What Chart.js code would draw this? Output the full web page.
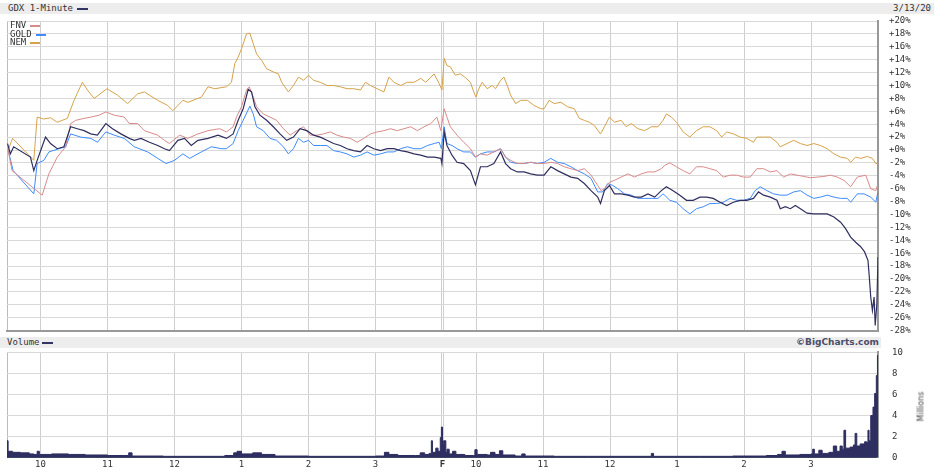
<!DOCTYPE html>
<html>
<head>
<meta charset="utf-8">
<script src="https://cdn.jsdelivr.net/npm/chart.js@4.4.1/dist/chart.umd.min.js"></script>
<style>
  body { margin: 0; background: #fff; width: 934px; height: 470px; position: relative; overflow: hidden;
         font-family: "DejaVu Sans Mono", monospace; font-size: 9px; color: #333; }
  canvas { position: absolute; left: 0; }
  .band { position: absolute; background: #ededed; }
  .txt { position: absolute; line-height: 11px; white-space: nowrap; }
  .dash { position: absolute; height: 2px; }
</style>
</head>
<body>
<canvas id="price" width="934" height="336" style="top:0"></canvas>
<canvas id="volume" width="934" height="130" style="top:340px"></canvas>

<div class="band" style="left:0;top:3px;width:934px;height:11px"></div>
<div class="txt" style="left:8px;top:3px">GDX 1-Minute</div>
<div class="dash" style="left:77px;top:8px;width:11px;background:#333366"></div>
<div class="txt" style="right:3px;top:3px">3/13/20</div>

<div class="txt" style="left:10px;top:20px">FNV</div>
<div class="dash" style="left:30px;top:25px;width:10px;background:#d98a8a"></div>
<div class="txt" style="left:10px;top:29px">GOLD</div>
<div class="dash" style="left:36px;top:34px;width:10px;background:#3d8bff"></div>
<div class="txt" style="left:10px;top:37px">NEM</div>
<div class="dash" style="left:30px;top:42px;width:10px;background:#d6a24a"></div>

<div class="band" style="left:0;top:337px;width:881px;height:11px"></div>
<div class="txt" style="left:7px;top:337px">Volume</div>
<div class="dash" style="left:42px;top:342px;width:11px;background:#333366"></div>
<div class="txt" style="right:55px;top:337px;font-family:'DejaVu Sans',sans-serif;font-weight:bold;color:#4a4e6a">©BigCharts.com</div>
<div class="txt" style="left:901px;top:401px;width:40px;text-align:center;transform:rotate(-90deg);font-family:'DejaVu Sans',sans-serif;font-size:8px;color:#444">Millions</div>

<script>
// minutes since 9:30 open, two sessions (Thu + Fri), 390 minutes each
const gridMin = [0, 30, 90, 150, 210, 270, 330, 389, 390, 391, 420, 480, 540, 600, 660, 720];
const tickLabels = { 30: '10', 90: '11', 150: '12', 210: '1', 270: '2', 330: '3', 390: 'F',
                     420: '10', 480: '11', 540: '12', 600: '1', 660: '2', 720: '3' };

// percent change
const gdxMin = [0.5,3,6,21,24,27,34.5,39,45,51,57,63,69,75,81,88.5,94.5,102,109.5,114,120,127.5,135,141,145.5,153,159,165,171,180,189,
  196.5,202.5,207,211.5,216,219,222,226.5,232.5,238.5,244.5,250.5,256.5,262.5,268.5,274.5,280.5,286.5,292.5,298.5,304.5,310.5,316.5,322.5,328.5,334.5,340.5,346.5,352.5,358.5,364.5,370.5,376.5,382.5,388.5,389.5,
  391.5,394,398.5,403,409,415,419.5,424,430,436,442,446.5,451,457,463,469,475,481,487,493,499,505,511,517,523,529,531.5,535,539.5,544,550,556,562,568,574,580,586,
  590.5,596.5,602.5,608.5,614.5,620.5,626.5,632.5,638.5,644.5,650.5,656.5,662.5,668.5,673,677.5,683.5,689.5,692.5,697,701.5,706,710.5,716.5,722.5,728.5,734.5,740.5,746.5,751,755.5,760,764.5,768,771,772,773.5,775,776.5,777.5,779,780];
const gdxPct = [1.0,-0.6,0.5,-1.1,-3.2,-1.6,2.0,1.0,0.2,0.5,3.6,3.3,3.0,2.5,2.3,4.1,3.3,2.5,1.8,1.5,1.8,1.2,0.7,0.2,-0.1,1.5,1.8,0.7,1.5,1.8,2.3,
  1.8,2.5,4.6,6.4,9.4,9.0,6.7,5.4,4.6,3.6,2.5,1.5,2.0,3.3,3.0,2.3,2.0,1.5,1.0,0.7,0.2,-0.1,-0.3,0.7,0.2,-0.1,0.2,0.2,-0.1,-0.3,-0.6,-0.8,-1.1,-1.1,-1.3,-2.1,
  2.8,0.7,-0.8,-1.9,-2.1,-3.2,-5.4,-2.6,-2.6,-2.1,-0.3,-2.1,-2.9,-3.4,-3.4,-3.7,-3.9,-3.9,-2.6,-3.2,-3.7,-4.2,-4.4,-5.2,-6.3,-7.3,-8.3,-6.3,-5.5,-6.8,-6.8,-7.0,-7.3,-7.3,-6.8,-7.3,-6.3,
  -5.7,-6.3,-7.0,-7.8,-7.8,-7.3,-7.3,-7.5,-8.1,-8.6,-8.1,-7.8,-7.8,-7.5,-6.5,-7.0,-7.3,-7.8,-9.1,-8.8,-9.1,-8.6,-9.1,-9.8,-9.9,-9.9,-9.9,-10.4,-11.2,-12.2,-13.5,-14.3,-15.0,-15.8,-17.1,-19.2,-22.8,-24.9,-22.8,-27.2,-23.8,-16.6];

const fnvMin = [1,4.5,31.5,37.5,45,52.5,57,61.5,69,75,82.5,88.5,96,105,109.5,117,123,135,141,145.5,154.5,162,171,180,190.5,
  196.5,202.5,205.5,210,214.5,217,220.5,223.5,229.5,235.5,241.5,247.5,253.5,259.5,265.5,271.5,277.5,283.5,289.5,295.5,301.5,307.5,313.5,319.5,325.5,331.5,337.5,343.5,349.5,355.5,361.5,367.5,373.5,379.5,385,388.5,
  391.5,394,397,403,409,415,419.5,424,430,436,442,446.5,451,457,463,469,475,481,487,493,499,505,511,517,523,529,532,535,539.5,544,550,556,562,568,574,580,586,
  589,593.5,599.5,605.5,611.5,617.5,623.5,629.5,635.5,641.5,647.5,653.5,659.5,665.5,671.5,677.5,683.5,689.5,695.5,701.5,707.5,713.5,719.5,725.5,731.5,737.5,743.5,749.5,755.5,761.5,769,773.5,778,780];
const fnvPct = [0.0,-3.2,-7.0,-3.7,-1.1,0.5,4.1,4.6,4.9,5.1,5.4,5.9,5.4,5.1,4.1,4.1,3.0,2.3,1.5,1.0,2.3,1.8,2.5,3.0,3.3,
  2.8,3.6,5.1,6.7,9.3,9.8,8.2,6.7,5.6,5.1,4.6,3.3,2.3,3.0,3.6,2.3,2.3,2.5,2.8,2.3,2.0,1.8,1.2,1.8,2.5,2.8,3.0,3.3,3.0,3.3,3.6,3.0,3.6,4.1,5.1,3.0,
  6.4,5.1,3.6,2.3,1.2,0.2,-1.1,-0.6,-0.8,-0.3,0.2,-1.1,-1.6,-2.1,-2.1,-1.9,-2.1,-2.1,-1.9,-2.1,-2.6,-2.9,-3.2,-2.9,-3.9,-5.5,-6.3,-6.0,-5.0,-4.7,-4.2,-3.7,-4.2,-3.7,-3.4,-3.4,-2.9,
  -2.4,-2.0,-2.6,-3.2,-3.7,-2.6,-2.6,-2.9,-3.2,-4.2,-3.9,-3.9,-4.2,-4.2,-2.9,-2.9,-3.4,-3.2,-4.2,-3.7,-3.9,-4.1,-4.3,-4.2,-4.1,-3.9,-4.2,-4.7,-5.7,-4.2,-3.9,-6.0,-6.3,-5.2];

const goldMin = [1,5.5,24,27,33,37.5,46.5,52.5,57,66,75,81,88.5,96,105,114,126,135,142.5,150,157.5,163.5,174,183,192,
  196.5,202.5,207,211.5,217.5,220.5,223.5,229.5,235.5,241.5,247.5,252,256.5,261,265.5,270,274.5,280.5,286.5,292.5,298.5,304.5,310.5,316.5,322.5,328.5,334.5,340.5,346.5,352.5,358.5,364.5,370.5,376.5,382.5,387,389,
  391.5,394,398.5,403,409,415,419.5,424,430,436,442,446.5,451,457,463,469,475,481,487,493,499,505,511,517,523,529,533.5,538,542.5,547,553,559,565,571,577,583,587.5,
  589,593.5,599.5,605.5,611.5,617.5,623.5,629.5,635.5,641.5,647.5,653.5,659.5,665.5,670,674.5,680.5,686.5,692.5,698.5,704.5,710.5,716.5,722.5,728.5,734.5,740.5,746.5,752.5,755.5,761.5,767.5,773.5,778,780];
const goldPct = [0.0,-3.2,-6.8,-2.1,-1.6,-0.3,0.2,0.5,2.5,2.0,1.8,1.2,2.8,2.3,1.8,0.5,-0.3,-1.3,-2.1,-1.6,-0.6,-1.3,-0.3,0.5,0.2,
  0.2,1.0,3.0,4.6,6.8,5.6,3.6,3.0,1.8,1.5,0.5,-0.6,0.2,1.8,1.2,1.5,0.7,0.7,0.7,-0.1,-0.3,-0.6,-1.1,-0.8,-0.3,-0.8,-0.6,-0.3,-0.3,0.2,0.5,0.2,0.2,0.7,1.0,1.2,0.2,
  3.6,1.0,0.7,0.2,-0.3,-0.3,-1.1,-0.6,-0.3,-0.3,0.2,-1.1,-1.9,-2.1,-2.1,-1.9,-2.1,-1.9,-1.3,-1.9,-2.1,-2.6,-3.2,-3.7,-4.4,-6.5,-6.5,-5.2,-5.5,-6.0,-6.8,-7.0,-7.5,-7.5,-7.5,-7.5,-6.8,
  -7.0,-7.8,-8.1,-9.1,-9.9,-9.1,-8.8,-8.3,-8.3,-8.1,-7.5,-7.8,-7.8,-7.5,-6.3,-5.7,-6.3,-6.8,-7.0,-7.0,-6.5,-6.3,-7.0,-7.5,-7.3,-7.0,-7.3,-7.5,-7.5,-8.1,-6.8,-6.8,-7.3,-8.1,-6.5];

const nemMin = [1,5,24,27,33,39,45,54,60,67.5,72,78,89.5,99,108,117,123,135,144,148.5,157.5,162,174,180,186,
  196.5,201,204,207,210,214.5,217.5,220.5,223.5,228,232.5,238.5,243,246,252,256.5,261,265.5,270,274.5,280.5,286.5,292.5,298.5,304.5,310.5,316.5,321,325.5,331.5,337.5,342,346.5,352.5,358.5,364.5,370.5,375,382.5,387,389.5,
  391.5,394,397,401.5,406,410,415,418,420,422,425.5,430,434.5,437.5,442,445,448,451,455.5,460,466,472,478,481,485.5,490,496,502,508,512.5,517,521.5,526,531.5,535,539.5,544,550,554.5,559,565,571,577,583,587.5,
  590.5,595,599.5,605.5,611.5,617.5,623.5,629.5,635.5,640,644.5,650.5,656.5,662.5,668.5,671.5,677.5,683.5,689.5,692.5,698.5,704.5,710.5,716.5,722.5,728.5,734.5,740.5,746.5,752.5,755.5,760,764.5,770.5,775,778,780];
const nemPct = [0.0,1.8,-1.6,5.1,4.8,5.0,4.3,4.9,7.7,10.5,9.3,8.0,9.5,8.5,7.2,8.7,9.0,7.7,6.9,6.1,7.7,7.4,8.2,9.8,9.5,
  9.8,10.5,13.4,14.4,15.7,18.0,18.1,16.5,14.9,13.9,12.6,12.1,11.8,10.5,9.0,10.0,11.3,10.8,11.6,10.8,10.5,10.0,10.0,9.8,9.5,9.5,9.3,10.5,10.0,9.5,9.0,11.3,10.5,10.0,10.5,10.5,11.1,10.5,11.8,10.3,9.3,
  14.2,13.1,12.9,11.6,11.8,11.3,10.5,9.0,8.2,9.3,10.5,9.5,10.0,9.5,10.8,11.3,10.0,8.5,7.2,7.7,7.7,6.9,6.4,6.4,7.7,7.2,7.4,6.7,6.4,4.9,4.6,4.3,3.8,2.5,3.6,5.1,4.3,4.6,3.6,4.1,3.3,3.0,3.6,3.6,4.6,
  5.6,5.1,4.3,2.8,2.0,3.0,3.6,3.6,3.0,2.0,2.8,2.5,2.0,1.8,1.2,2.0,2.0,2.0,1.2,0.5,1.0,1.5,1.0,0.7,1.0,0.7,0.2,-0.6,-1.1,-1.3,-1.9,-1.1,-1.3,-1.0,-1.3,-2.1,-2.1];

// GDX volume, millions of shares
const volMin = [0,1,5,12,20,24,27,29,40,55,70,90,105,109,112,140,170,195,203,206,210,220,228,240,270,300,330,338,342,350,
  366,370,374,378,380,381,384,386,388,389,390,391,393,394,396,399,402,410,418,419,421,430,433,437,441,444,455,461,464,490,
  520,550,577,579,620,650,680,690,694,697,710,720,721.5,723,727,730,736,740,743,746,748,749.5,751,755,758,759.5,761,764,768,770,
  771,772,773.5,775.5,777,778.5,779.5,780];
const volM = [1.6,0.6,0.5,0.45,0.35,0.3,0.6,0.3,0.35,0.3,0.25,0.2,0.2,0.45,0.15,0.12,0.12,0.2,0.45,0.6,0.35,0.45,0.3,0.15,0.12,0.12,0.15,0.5,0.3,0.2,
  0.2,0.45,0.3,0.4,1.6,0.5,0.9,0.6,1.9,2.9,1.2,1.6,0.5,0.8,0.35,0.6,0.3,0.2,0.2,0.75,0.3,0.25,0.5,0.3,0.65,0.25,0.15,0.35,0.15,0.12,
  0.12,0.12,0.4,0.12,0.12,0.15,0.2,0.3,0.6,0.25,0.3,0.35,0.8,0.35,0.7,0.4,0.5,1.1,0.6,1.1,0.8,2.6,0.9,1.0,1.2,2.3,1.1,1.3,1.5,1.4,
  2.6,1.6,4.0,4.8,6.1,7.8,9.7,9.7];

const pts = (xs, ys) => xs.map((x, i) => ({ x: x, y: ys[i] }));
const tickFont = { family: 'DejaVu Sans Mono', size: 9 };

const xGrid = {
  color: (ctx) => ctx.tick && ctx.tick.value === 390 ? 'rgba(0,0,0,0)' : (ctx.tick && ctx.tick.value === 0 ? '#bbbbbb' : '#cfcfcf'),
  drawTicks: false
};
const setXTicks = (scale) => { scale.ticks = gridMin.map(v => ({ value: v })); };

const line = (label, data, color, width) => ({
  label: label, data: data, borderColor: color, borderWidth: width,
  pointRadius: 0, tension: 0, fill: false
});

// move/resize a canvas so that its plot area lands on the wanted page rows
function placeArea(chart, canvas, wantTop, wantBottom) {
  const a = chart.chartArea;
  const top = wantTop - a.top;
  canvas.style.top = top + 'px';
  const h = chart.height + (wantBottom - top - a.bottom);
  chart.resize(934, Math.round(h));
}

const priceCanvas = document.getElementById('price');
const priceChart = new Chart(priceCanvas.getContext('2d'), {
  type: 'line',
  data: {
    datasets: [
      line('GDX', pts(gdxMin, gdxPct), '#2f2f5f', 1.2),
      line('FNV', pts(fnvMin, fnvPct), '#d98a8a', 1),
      line('GOLD', pts(goldMin, goldPct), '#3d8bff', 1),
      line('NEM', pts(nemMin, nemPct), '#d6a24a', 1)
    ]
  },
  options: {
    responsive: false,
    maintainAspectRatio: false,
    animation: false,
    layout: { padding: { left: 7, right: 0, top: 20, bottom: 6 } },
    plugins: { legend: { display: false }, tooltip: { enabled: false } },
    scales: {
      x: {
        type: 'linear', min: 0, max: 780,
        afterBuildTicks: setXTicks,
        afterFit: (scale) => { scale.height = 0; },
        ticks: { display: false },
        grid: xGrid,
        border: { display: true, color: '#999999', width: 2 }
      },
      y: {
        position: 'right', min: -28, max: 20,
        afterFit: (scale) => { scale.width = 56; },
        ticks: {
          stepSize: 2, autoSkip: false, padding: 11, color: '#333', font: tickFont,
          callback: (v) => (v >= 0 ? '+' : '') + v + '%'
        },
        grid: { color: '#d9d9d9', drawTicks: false },
        border: { color: '#999999', width: 2 }
      }
    }
  }
});
placeArea(priceChart, priceCanvas, 20.5, 330.5);

const volCanvas = document.getElementById('volume');
const volChart = new Chart(volCanvas.getContext('2d'), {
  type: 'line',
  data: {
    datasets: [{
      label: 'Volume', data: pts(volMin, volM),
      borderColor: '#2e2e60', backgroundColor: '#2e2e60', borderWidth: 1,
      pointRadius: 0, stepped: 'before', fill: 'origin'
    }]
  },
  options: {
    responsive: false,
    maintainAspectRatio: false,
    animation: false,
    layout: { padding: { left: 7, right: 0, top: 12, bottom: 0 } },
    plugins: { legend: { display: false }, tooltip: { enabled: false } },
    scales: {
      x: {
        type: 'linear', min: 0, max: 780,
        afterBuildTicks: setXTicks,
        ticks: {
          autoSkip: false, maxRotation: 0, padding: 2, color: '#333',
          font: (ctx) => ({ family: 'DejaVu Sans Mono', size: 9, weight: ctx.tick && ctx.tick.value === 390 ? 'bold' : 'normal' }),
          callback: (v) => tickLabels[v] || ''
        },
        grid: xGrid,
        border: { display: true, color: '#444466', width: 1 }
      },
      y: {
        position: 'right', min: 0, max: 10,
        afterFit: (scale) => { scale.width = 56; },
        ticks: { stepSize: 2, autoSkip: false, padding: 14, color: '#333', font: tickFont },
        grid: { color: '#d9d9d9', drawTicks: false },
        border: { color: '#999999', width: 2 }
      }
    }
  }
});
placeArea(volChart, volCanvas, 352, 457);
</script>
</body>
</html>
